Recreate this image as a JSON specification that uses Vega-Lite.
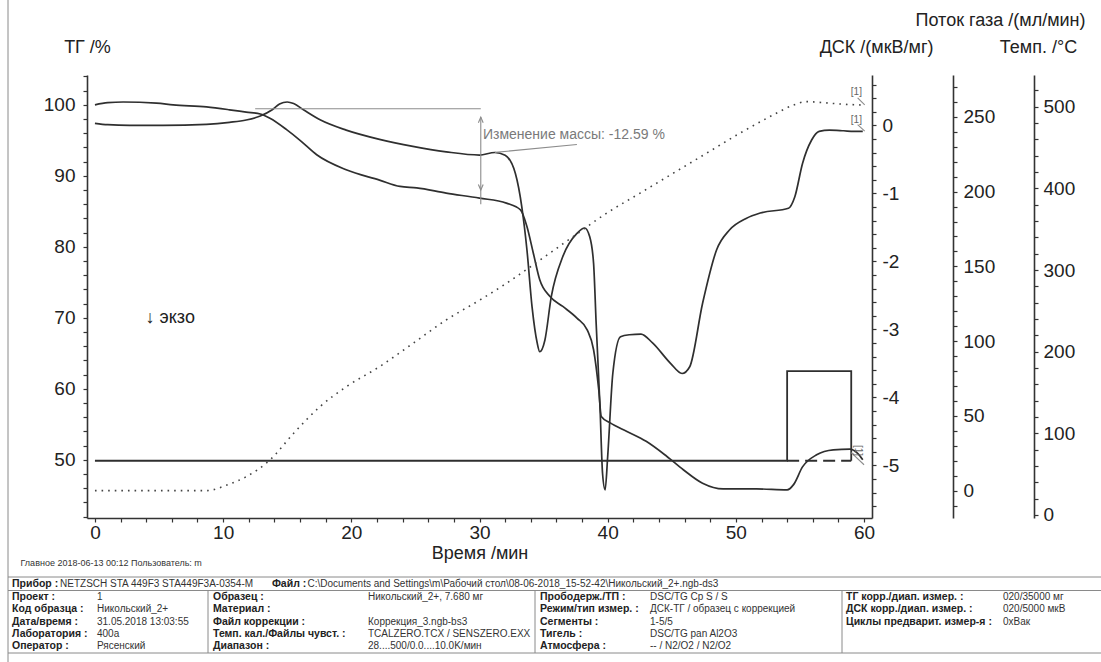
{
  "$schema": "https://vega.github.io/schema/vega-lite/v6.json",
  "width": 785,
  "height": 443,
  "autosize": {"type": "none"},
  "padding": {"left": 87, "top": 75, "right": 229, "bottom": 144},
  "background": "white",
  "config": {
    "view": {"stroke": null},
    "font": "Liberation Sans",
    "axis": {
      "grid": false,
      "domainColor": "#333333",
      "domainWidth": 1.6,
      "tickColor": "#333333",
      "tickWidth": 1.2,
      "tickSize": 4,
      "labelFont": "Liberation Sans",
      "labelFontSize": 19,
      "labelColor": "#222222",
      "labelOverlap": false,
      "labelFlush": false,
      "titleFont": "Liberation Sans",
      "titleFontSize": 18,
      "titleFontWeight": "normal",
      "titleColor": "#222222"
    }
  },
  "datasets": {
    "tg": [
      {"t": 0, "v": 100.0}, {"t": 1, "v": 100.3}, {"t": 2.2, "v": 100.4}, {"t": 4.8, "v": 100.25},
      {"t": 6.1, "v": 100.0}, {"t": 8.7, "v": 99.7}, {"t": 10.5, "v": 99.3}, {"t": 11.8, "v": 98.97},
      {"t": 12.9, "v": 98.7}, {"t": 13.65, "v": 98.1}, {"t": 14.95, "v": 96.5}, {"t": 16, "v": 95.0},
      {"t": 17.3, "v": 92.96}, {"t": 19.6, "v": 90.85}, {"t": 22.2, "v": 89.4}, {"t": 23.8, "v": 88.5},
      {"t": 25.1, "v": 88.3}, {"t": 27.4, "v": 87.56}, {"t": 30.0, "v": 86.86}, {"t": 32.1, "v": 86.15},
      {"t": 33.2, "v": 85.2}, {"t": 33.7, "v": 82.86}, {"t": 34.2, "v": 79.1}, {"t": 34.7, "v": 75.35},
      {"t": 35.5, "v": 73.0}, {"t": 36.5, "v": 71.6}, {"t": 37.6, "v": 69.96}, {"t": 38.4, "v": 68.3},
      {"t": 38.9, "v": 65.5}, {"t": 39.3, "v": 59.9}, {"t": 39.5, "v": 56.1}, {"t": 40.2, "v": 55.2},
      {"t": 41.5, "v": 54.0}, {"t": 43.0, "v": 52.6}, {"t": 44.6, "v": 50.5}, {"t": 45.9, "v": 48.6},
      {"t": 47.4, "v": 46.7}, {"t": 49.0, "v": 45.9}, {"t": 51.6, "v": 45.9}, {"t": 54.0, "v": 45.77},
      {"t": 54.5, "v": 46.5}, {"t": 55.2, "v": 49.0}, {"t": 56.3, "v": 50.7}, {"t": 57.6, "v": 51.4},
      {"t": 58.9, "v": 51.5}, {"t": 59.5, "v": 50.9}, {"t": 59.9, "v": 50.0}
    ],
    "dsc": [
      {"t": 0, "v": 0.03}, {"t": 1, "v": 0.01}, {"t": 2.7, "v": 0.0}, {"t": 5.3, "v": 0.0},
      {"t": 8.7, "v": 0.015}, {"t": 10.5, "v": 0.044}, {"t": 11.8, "v": 0.078}, {"t": 12.9, "v": 0.137},
      {"t": 13.8, "v": 0.225}, {"t": 14.4, "v": 0.313}, {"t": 15.0, "v": 0.343}, {"t": 15.5, "v": 0.32},
      {"t": 16.3, "v": 0.225}, {"t": 17.6, "v": 0.078}, {"t": 19.6, "v": -0.07}, {"t": 22.2, "v": -0.206},
      {"t": 24.8, "v": -0.31}, {"t": 27.4, "v": -0.39}, {"t": 30.0, "v": -0.437}, {"t": 31.2, "v": -0.4},
      {"t": 32.0, "v": -0.44}, {"t": 32.8, "v": -0.71}, {"t": 33.3, "v": -1.2}, {"t": 33.7, "v": -1.83},
      {"t": 34.1, "v": -2.67}, {"t": 34.5, "v": -3.2}, {"t": 34.7, "v": -3.33}, {"t": 35.1, "v": -3.16},
      {"t": 35.6, "v": -2.52}, {"t": 36.5, "v": -1.93}, {"t": 37.6, "v": -1.59}, {"t": 38.2, "v": -1.51},
      {"t": 38.6, "v": -1.64}, {"t": 38.9, "v": -2.03}, {"t": 39.1, "v": -2.91}, {"t": 39.4, "v": -4.14},
      {"t": 39.6, "v": -5.12}, {"t": 39.8, "v": -5.36}, {"t": 40.0, "v": -4.87}, {"t": 40.4, "v": -3.65},
      {"t": 41.0, "v": -3.11}, {"t": 41.7, "v": -3.08}, {"t": 42.6, "v": -3.07}, {"t": 43.5, "v": -3.2},
      {"t": 44.9, "v": -3.5}, {"t": 45.8, "v": -3.65}, {"t": 46.4, "v": -3.55}, {"t": 47.4, "v": -2.62},
      {"t": 48.5, "v": -1.83}, {"t": 49.5, "v": -1.54}, {"t": 50.8, "v": -1.37}, {"t": 51.9, "v": -1.29},
      {"t": 54.1, "v": -1.22}, {"t": 54.6, "v": -1.05}, {"t": 55.2, "v": -0.56}, {"t": 55.9, "v": -0.22},
      {"t": 56.5, "v": -0.09}, {"t": 57.3, "v": -0.07}, {"t": 58.4, "v": -0.08}, {"t": 59.2, "v": -0.09},
      {"t": 59.9, "v": -0.09}
    ],
    "temp": [
      {"t": 0, "v": 29.8}, {"t": 8.7, "v": 29.8}, {"t": 10.3, "v": 36.7}, {"t": 11.8, "v": 46.9},
      {"t": 13.65, "v": 67.3}, {"t": 15.5, "v": 100}, {"t": 17.55, "v": 132.6}, {"t": 19.6, "v": 157},
      {"t": 22.2, "v": 181.6}, {"t": 24.8, "v": 210}, {"t": 27.4, "v": 238.8}, {"t": 30.0, "v": 263},
      {"t": 32.1, "v": 283.7}, {"t": 34.7, "v": 312}, {"t": 37.3, "v": 340.8}, {"t": 39.9, "v": 369.4},
      {"t": 42.5, "v": 393.9}, {"t": 45.1, "v": 418.4}, {"t": 47.7, "v": 442.9}, {"t": 50.3, "v": 467.4},
      {"t": 52.9, "v": 489.8}, {"t": 54.5, "v": 502}, {"t": 55.5, "v": 506.2}, {"t": 56.8, "v": 505},
      {"t": 58.1, "v": 503.3}, {"t": 59.9, "v": 502}
    ],
    "gas": [
      {"t": 0, "v": 20}, {"t": 54, "v": 20}, {"t": 54, "v": 80}, {"t": 59, "v": 80}, {"t": 59, "v": 20}
    ],
    "gasd": [
      {"t": 54, "v": 20}, {"t": 59, "v": 20}
    ],
    "ann": [
      {"x1": 12.5, "x2": 30.1, "y1": 99.44, "y2": 99.44},
      {"x1": 30.1, "x2": 30.1, "y1": 98.3, "y2": 86.0},
      {"x1": 31.2, "x2": 37.6, "y1": 93.3, "y2": 94.4},
      {"x1": 59.5, "x2": 60.05, "y1": 97.2, "y2": 96.3},
      {"x1": 59.5, "x2": 60.05, "y1": 100.98, "y2": 99.99},
      {"x1": 59.0, "x2": 60.0, "y1": 51.0, "y2": 49.3}
    ],
    "arrows": [
      {"t": 30.1, "v": 98.27, "d": "up"},
      {"t": 30.1, "v": 88.0, "d": "down"}
    ],
    "refs": [
      {"t": 59.4, "v": 97.9, "s": "[1]", "a": 0},
      {"t": 59.4, "v": 101.75, "s": "[1]", "a": 0},
      {"t": 59.5, "v": 51.3, "s": "[1]", "a": 90}
    ],
    "tab": [
      {"r": -1, "c": 0, "s": "Прибор :", "b": true},
      {"r": -1, "c": 0.565, "s": "NETZSCH STA 449F3 STA449F3A-0354-M", "b": false},
      {"r": -1, "c": 2.38, "s": "Файл :", "b": true},
      {"r": -1, "c": 2.61, "s": "C:\\Documents and Settings\\m\\Рабочий стол\\08-06-2018_15-52-42\\Никольский_2+.ngb-ds3", "b": false},
      {"r": 0, "c": 0, "s": "Проект :", "b": true},
      {"r": 0, "c": 1, "s": "1", "b": false},
      {"r": 0, "c": 2, "s": "Образец :", "b": true},
      {"r": 0, "c": 3, "s": "Никольский_2+, 7.680 мг", "b": false},
      {"r": 0, "c": 4, "s": "Прободерж./ТП :", "b": true},
      {"r": 0, "c": 5, "s": "DSC/TG Cp S / S", "b": false},
      {"r": 0, "c": 6, "s": "ТГ корр./диап. измер. :", "b": true},
      {"r": 0, "c": 7, "s": "020/35000 мг", "b": false},
      {"r": 1, "c": 0, "s": "Код образца :", "b": true},
      {"r": 1, "c": 1, "s": "Никольский_2+", "b": false},
      {"r": 1, "c": 2, "s": "Материал :", "b": true},
      {"r": 1, "c": 4, "s": "Режим/тип измер. :", "b": true},
      {"r": 1, "c": 5, "s": "ДСК-ТГ / образец с коррекцией", "b": false},
      {"r": 1, "c": 6, "s": "ДСК корр./диап. измер. :", "b": true},
      {"r": 1, "c": 7, "s": "020/5000 мкВ", "b": false},
      {"r": 2, "c": 0, "s": "Дата/время :", "b": true},
      {"r": 2, "c": 1, "s": "31.05.2018 13:03:55", "b": false},
      {"r": 2, "c": 2, "s": "Файл коррекции :", "b": true},
      {"r": 2, "c": 3, "s": "Коррекция_3.ngb-bs3", "b": false},
      {"r": 2, "c": 4, "s": "Сегменты :", "b": true},
      {"r": 2, "c": 5, "s": "1-5/5", "b": false},
      {"r": 2, "c": 6, "s": "Циклы предварит. измер-я :", "b": true},
      {"r": 2, "c": 7, "s": "0xВак", "b": false},
      {"r": 3, "c": 0, "s": "Лаборатория :", "b": true},
      {"r": 3, "c": 1, "s": "400а", "b": false},
      {"r": 3, "c": 2, "s": "Темп. кал./Файлы чувст. :", "b": true},
      {"r": 3, "c": 3, "s": "TCALZERO.TCX / SENSZERO.EXX", "b": false},
      {"r": 3, "c": 4, "s": "Тигель :", "b": true},
      {"r": 3, "c": 5, "s": "DSC/TG pan Al2O3", "b": false},
      {"r": 4, "c": 0, "s": "Оператор :", "b": true},
      {"r": 4, "c": 1, "s": "Рясенский", "b": false},
      {"r": 4, "c": 2, "s": "Диапазон :", "b": true},
      {"r": 4, "c": 3, "s": "28....500/0.0....10.0K/мин", "b": false},
      {"r": 4, "c": 4, "s": "Атмосфера :", "b": true},
      {"r": 4, "c": 5, "s": "-- / N2/O2 / N2/O2", "b": false}
    ],
    "foot": [
      {"r": -3, "c": 0.1, "s": "Главное    2018-06-13 00:12    Пользователь: m"}
    ],
    "tlines": [
      {"x1": -1, "x2": 8, "y1": -2, "y2": -2},
      {"x1": -1, "x2": 8, "y1": -0.5, "y2": -0.5},
      {"x1": -1, "x2": 8, "y1": 4.7, "y2": 4.7},
      {"x1": 1.9, "x2": 1.9, "y1": -0.5, "y2": 4.7},
      {"x1": 3.9, "x2": 3.9, "y1": -0.5, "y2": 4.7},
      {"x1": 5.9, "x2": 5.9, "y1": -0.5, "y2": 4.7},
      {"x1": -1, "x2": -1, "y1": -10, "y2": 6}
    ]
  },
  "layer": [
    {
      "data": {"name": "tg"},
      "mark": {"type": "line", "color": "#2f2f2f", "strokeWidth": 1.7, "interpolate": "monotone"},
      "encoding": {
        "x": {"field": "t", "type": "quantitative",
          "scale": {"domain": [-0.62, 60.62], "nice": false, "zero": false},
          "axis": {"values": [0,2,4,6,8,10,12,14,16,18,20,22,24,26,28,30,32,34,36,38,40,42,44,46,48,50,52,54,56,58,60],
            "labelExpr": "datum.value % 10 == 0 ? '' + datum.value : ''",
            "labelPadding": 1, "title": "Время /мин", "titlePadding": 2}},
        "y": {"field": "v", "type": "quantitative",
          "scale": {"domain": [41.8, 104.2], "nice": false, "zero": false},
          "axis": {"orient": "left",
            "values": [42,44,46,48,50,52,54,56,58,60,62,64,66,68,70,72,74,76,78,80,82,84,86,88,90,92,94,96,98,100,102,104],
            "labelExpr": "datum.value % 10 == 0 ? '' + datum.value : ''",
            "labelPadding": 8, "title": "ТГ /%", "titleAngle": 0, "titleX": 0, "titleY": -28,
            "titleAlign": "center", "titleBaseline": "middle"}}
      }
    },
    {
      "data": {"name": "dsc"},
      "mark": {"type": "line", "color": "#2f2f2f", "strokeWidth": 1.7, "interpolate": "monotone"},
      "encoding": {
        "x": {"field": "t", "type": "quantitative", "scale": {"domain": [-0.62, 60.62], "nice": false, "zero": false}, "axis": null},
        "y": {"field": "v", "type": "quantitative",
          "scale": {"domain": [-5.775, 0.74], "nice": false, "zero": false},
          "axis": {"orient": "right", "offset": 0,
            "values": [-5.6,-5.4,-5.2,-5,-4.8,-4.6,-4.4,-4.2,-4,-3.8,-3.6,-3.4,-3.2,-3,-2.8,-2.6,-2.4,-2.2,-2,-1.8,-1.6,-1.4,-1.2,-1,-0.8,-0.6,-0.4,-0.2,0,0.2,0.4,0.6],
            "labelExpr": "datum.value % 1 == 0 ? '' + datum.value : ''",
            "labelPadding": 6, "title": "ДСК /(мкВ/мг)", "titleAngle": 0, "titleX": 61, "titleY": -28,
            "titleAlign": "right", "titleBaseline": "middle"}}
      }
    },
    {
      "data": {"name": "gas"},
      "mark": {"type": "line", "color": "#2f2f2f", "strokeWidth": 1.8},
      "encoding": {
        "x": {"field": "t", "type": "quantitative", "scale": {"domain": [-0.62, 60.62], "nice": false, "zero": false}, "axis": null},
        "y": {"field": "v", "type": "quantitative",
          "scale": {"domain": [-18.3, 278], "nice": false, "zero": false},
          "axis": {"orient": "right", "offset": 81,
            "values": [-10,0,10,20,30,40,50,60,70,80,90,100,110,120,130,140,150,160,170,180,190,200,210,220,230,240,250,260,270],
            "labelExpr": "datum.value % 50 == 0 ? '' + datum.value : ''",
            "labelPadding": 6, "title": "Поток газа /(мл/мин)", "titleAngle": 0, "titleX": 132, "titleY": -55,
            "titleAlign": "right", "titleBaseline": "middle"}},
        "order": {"value": null}
      }
    },
    {
      "data": {"name": "gasd"},
      "mark": {"type": "line", "color": "#2f2f2f", "strokeWidth": 1.8, "strokeDash": [12, 6]},
      "encoding": {
        "x": {"field": "t", "type": "quantitative", "scale": {"domain": [-0.62, 60.62], "nice": false, "zero": false}, "axis": null},
        "y": {"field": "v", "type": "quantitative", "scale": {"domain": [-18.3, 278], "nice": false, "zero": false}, "axis": null}
      }
    },
    {
      "data": {"name": "temp"},
      "mark": {"type": "line", "color": "#444444", "strokeWidth": 1.6, "strokeDash": [1.6, 5], "interpolate": "monotone"},
      "encoding": {
        "x": {"field": "t", "type": "quantitative", "scale": {"domain": [-0.62, 60.62], "nice": false, "zero": false}, "axis": null},
        "y": {"field": "v", "type": "quantitative",
          "scale": {"domain": [-3.7, 538.8], "nice": false, "zero": false},
          "axis": {"orient": "right", "offset": 162,
            "values": [0,20,40,60,80,100,120,140,160,180,200,220,240,260,280,300,320,340,360,380,400,420,440,460,480,500,520],
            "labelExpr": "datum.value % 100 == 0 ? '' + datum.value : ''",
            "labelPadding": 5, "title": "Темп. /°C", "titleAngle": 0, "titleX": 4, "titleY": -28,
            "titleAlign": "center", "titleBaseline": "middle"}}
      }
    },
    {
      "data": {"name": "ann"},
      "mark": {"type": "rule", "color": "#8c8c8c", "strokeWidth": 1.1},
      "encoding": {
        "x": {"field": "x1", "type": "quantitative", "scale": {"domain": [-0.62, 60.62], "nice": false, "zero": false}, "axis": null},
        "x2": {"field": "x2"},
        "y": {"field": "y1", "type": "quantitative", "scale": {"domain": [41.8, 104.2], "nice": false, "zero": false}, "axis": null},
        "y2": {"field": "y2"}
      }
    },
    {
      "data": {"name": "arrows"},
      "mark": {"type": "point", "filled": false, "color": "#8c8c8c", "strokeWidth": 1.1, "size": 64, "opacity": 1},
      "encoding": {
        "x": {"field": "t", "type": "quantitative", "scale": {"domain": [-0.62, 60.62], "nice": false, "zero": false}, "axis": null},
        "y": {"field": "v", "type": "quantitative", "scale": {"domain": [41.8, 104.2], "nice": false, "zero": false}, "axis": null},
        "shape": {"field": "d", "type": "nominal", "legend": null,
          "scale": {"domain": ["up", "down"], "range": ["M-0.6,1.4L0,0L0.6,1.4", "M-0.6,-1.4L0,0L0.6,-1.4"]}}
      }
    },
    {
      "data": {"values": [{"t": 30.27, "v": 95.68, "s": "Изменение массы: -12.59 %"}]},
      "mark": {"type": "text", "align": "left", "baseline": "middle", "font": "Liberation Sans", "fontSize": 14, "color": "#7a7a7a"},
      "encoding": {
        "x": {"field": "t", "type": "quantitative", "scale": {"domain": [-0.62, 60.62], "nice": false, "zero": false}, "axis": null},
        "y": {"field": "v", "type": "quantitative", "scale": {"domain": [41.8, 104.2], "nice": false, "zero": false}, "axis": null},
        "text": {"field": "s"}
      }
    },
    {
      "data": {"values": [{"t": 3.95, "v": 70.0, "s": "↓ экзо"}]},
      "mark": {"type": "text", "align": "left", "baseline": "middle", "font": "Liberation Sans", "fontSize": 18, "color": "#222222"},
      "encoding": {
        "x": {"field": "t", "type": "quantitative", "scale": {"domain": [-0.62, 60.62], "nice": false, "zero": false}, "axis": null},
        "y": {"field": "v", "type": "quantitative", "scale": {"domain": [41.8, 104.2], "nice": false, "zero": false}, "axis": null},
        "text": {"field": "s"}
      }
    },
    {
      "data": {"name": "refs"},
      "mark": {"type": "text", "align": "center", "baseline": "middle", "font": "Liberation Sans", "fontSize": 10, "color": "#666666"},
      "encoding": {
        "x": {"field": "t", "type": "quantitative", "scale": {"domain": [-0.62, 60.62], "nice": false, "zero": false}, "axis": null},
        "y": {"field": "v", "type": "quantitative", "scale": {"domain": [41.8, 104.2], "nice": false, "zero": false}, "axis": null},
        "angle": {"field": "a", "type": "quantitative", "scale": null},
        "text": {"field": "s"}
      }
    },
    {
      "data": {"name": "tlines"},
      "mark": {"type": "rule", "color": "#8a8a8a", "strokeWidth": 1},
      "encoding": {
        "x": {"field": "x1", "type": "quantitative", "axis": null,
          "scale": {"domain": [-1, 0, 1, 1.9, 2, 3, 3.9, 4, 5, 5.9, 6, 7, 8], "range": [-79, -75, 10, 121, 126, 281, 448, 453, 563, 755, 759, 916, 1014], "nice": false, "zero": false}},
        "x2": {"field": "x2"},
        "y": {"field": "y1", "type": "quantitative", "axis": null,
          "scale": {"domain": [-10, -3, -2, -1, -0.5, 0, 4, 4.7, 6], "range": [-75, 488, 502, 509, 515.5, 522, 571, 578, 587], "nice": false, "zero": false}},
        "y2": {"field": "y2"}
      }
    },
    {
      "data": {"name": "tab"},
      "transform": [{"filter": "datum.b"}],
      "mark": {"type": "text", "align": "left", "baseline": "middle", "font": "Liberation Sans", "fontSize": 10.5, "fontWeight": "bold", "color": "#222222"},
      "encoding": {
        "x": {"field": "c", "type": "quantitative", "axis": null,
          "scale": {"domain": [-1, 0, 1, 1.9, 2, 3, 3.9, 4, 5, 5.9, 6, 7, 8], "range": [-79, -75, 10, 121, 126, 281, 448, 453, 563, 755, 759, 916, 1014], "nice": false, "zero": false}},
        "y": {"field": "r", "type": "quantitative", "axis": null,
          "scale": {"domain": [-10, -3, -2, -1, -0.5, 0, 4, 4.7, 6], "range": [-75, 488, 502, 509, 515.5, 522, 571, 578, 587], "nice": false, "zero": false}},
        "text": {"field": "s"}
      }
    },
    {
      "data": {"name": "tab"},
      "transform": [{"filter": "!datum.b"}],
      "mark": {"type": "text", "align": "left", "baseline": "middle", "font": "Liberation Sans", "fontSize": 10, "color": "#333333"},
      "encoding": {
        "x": {"field": "c", "type": "quantitative", "axis": null,
          "scale": {"domain": [-1, 0, 1, 1.9, 2, 3, 3.9, 4, 5, 5.9, 6, 7, 8], "range": [-79, -75, 10, 121, 126, 281, 448, 453, 563, 755, 759, 916, 1014], "nice": false, "zero": false}},
        "y": {"field": "r", "type": "quantitative", "axis": null,
          "scale": {"domain": [-10, -3, -2, -1, -0.5, 0, 4, 4.7, 6], "range": [-75, 488, 502, 509, 515.5, 522, 571, 578, 587], "nice": false, "zero": false}},
        "text": {"field": "s"}
      }
    },
    {
      "data": {"name": "foot"},
      "mark": {"type": "text", "align": "left", "baseline": "middle", "font": "Liberation Sans", "fontSize": 9, "color": "#333333"},
      "encoding": {
        "x": {"field": "c", "type": "quantitative", "axis": null,
          "scale": {"domain": [-1, 0, 1, 1.9, 2, 3, 3.9, 4, 5, 5.9, 6, 7, 8], "range": [-79, -75, 10, 121, 126, 281, 448, 453, 563, 755, 759, 916, 1014], "nice": false, "zero": false}},
        "y": {"field": "r", "type": "quantitative", "axis": null,
          "scale": {"domain": [-10, -3, -2, -1, -0.5, 0, 4, 4.7, 6], "range": [-75, 488, 502, 509, 515.5, 522, 571, 578, 587], "nice": false, "zero": false}},
        "text": {"field": "s"}
      }
    }
  ],
  "resolve": {"scale": {"x": "independent", "y": "independent", "shape": "independent", "angle": "independent"}}
}
